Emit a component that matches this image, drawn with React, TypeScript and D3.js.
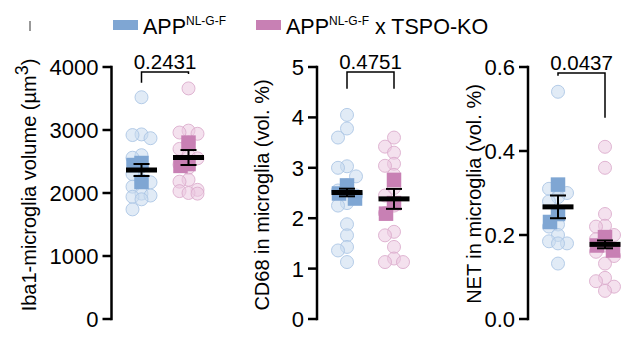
import React from 'react';
import * as d3 from 'd3';

// ---------- DATA ----------
const groupNames = ['APP NL-G-F', 'APP NL-G-F x TSPO-KO'];

const iba1Blue = [3520, 2930, 2920, 2870, 2600, 2560, 2420, 2300, 2200, 2170, 2100, 1990, 1960, 1940, 1900, 1740];
const iba1Pink = [3660, 2990, 2960, 2940, 2800, 2700, 2600, 2550, 2450, 2400, 2210, 2180, 2050, 2030, 2000, 1990];
const iba1BlueAnimals = [2444, 2476, 2175];
const iba1PinkAnimals = [2800, 2430, 2460];

const cd68Blue = [4.05, 3.78, 3.6, 3.03, 3.0, 2.83, 2.65, 2.55, 2.45, 2.3, 2.25, 1.88, 1.66, 1.43, 1.36, 1.13];
const cd68Pink = [3.6, 3.42, 3.3, 3.08, 3.04, 2.86, 2.6, 2.45, 2.25, 2.1, 1.73, 1.66, 1.43, 1.2, 1.13, 1.13];
const cd68BlueAnimals = [2.65, 2.39, 2.49];
const cd68PinkAnimals = [2.76, 2.09, 2.3];

const netBlue = [0.541, 0.31, 0.31, 0.3, 0.29, 0.28, 0.25, 0.225, 0.22, 0.2, 0.185, 0.18, 0.18, 0.132];
const netPink = [0.41, 0.36, 0.25, 0.222, 0.22, 0.2, 0.19, 0.175, 0.16, 0.15, 0.132, 0.098, 0.09, 0.077, 0.067];
const netBlueAnimals = [0.32, 0.231, 0.25];
const netPinkAnimals = [0.195, 0.163, 0.175];

const iba1Ticks = [0, 1000, 2000, 3000, 4000];
const cd68Ticks = [0, 1, 2, 3, 4, 5];
const netTicks = [0, 0.2, 0.4, 0.6];

const pValues = ['0.2431', '0.4751', '0.0437'];
const bracketTop = [3920, 4.9, 0.586];
const bracketLegs = [[3750, 3890], [4.57, 4.57], [0.579, 0.479]];

// ---------- STYLE ----------
const FONT = '"Liberation Sans", Arial, Helvetica, sans-serif';
const BLUE_SQ = '#7fa6d3';
const BLUE_FILL = '#c9dbef';
const BLUE_STROKE = '#a9c4e4';
const PINK_SQ = '#c880b4';
const PINK_FILL = '#ebc9e0';
const PINK_STROKE = '#dbaacb';

type Panel = {
  axisX: number;
  max: number;
  ticks: number[];
  fmt: (v: number) => string;
  circles: number[][];
  animals: number[][];
  label: React.ReactNode;
  labelX: number;
  labelY: number;
};

function dodge(ys: number[], r: number, step: number): number[] {
  const placed: { x: number; y: number }[] = [];
  const order = ys.map((_, i) => i).sort((a, b) => ys[a] - ys[b]);
  const out = new Array(ys.length).fill(0);
  for (const i of order) {
    const y = ys[i];
    const cands = [0, -step, step];
    let best = 0;
    let bestD = -1;
    for (const c of cands) {
      let minD = Infinity;
      for (const p of placed) {
        const d = Math.hypot(p.x - c, p.y - y);
        if (d < minD) minD = d;
      }
      if (minD >= r * 1.6) { best = c; break; }
      if (minD > bestD) { bestD = minD; best = c; }
    }
    placed.push({ x: best, y });
    out[i] = best;
  }
  return out;
}

const Y0 = 319;
const Y1 = 67;

function PanelView({ p, idx }: { p: Panel; idx: number }) {
  const y = d3.scaleLinear().domain([0, p.max]).range([Y0, Y1]);
  const x = d3.scalePoint<number>().domain([0, 1]).range([p.axisX + 30, p.axisX + 77]);
  const r = 6.5;
  const sq = 14.5;
  const fills = [BLUE_FILL, PINK_FILL];
  const strokes = [BLUE_STROKE, PINK_STROKE];
  const sqs = [BLUE_SQ, PINK_SQ];
  const xl = x(0)!;
  const xr = x(1)!;
  const top = y(bracketTop[idx]);
  return (
    <g>
      {/* axis */}
      <line x1={p.axisX} x2={p.axisX} y1={y(0) + 1.25} y2={y(p.max) - 1.25} stroke="#000" strokeWidth={2.5} />
      {p.ticks.map((t) => (
        <g key={t}>
          <line x1={p.axisX - 9} x2={p.axisX} y1={y(t)} y2={y(t)} stroke="#000" strokeWidth={2.5} />
          <text x={p.axisX - 13} y={y(t)} dy="0.36em" textAnchor="end" fontSize={22} fontFamily={FONT} fill="#000">
            {p.fmt(t)}
          </text>
        </g>
      ))}
      {/* y label */}
      <text
        transform={`translate(${p.labelX},${p.labelY}) rotate(-90)`}
        textAnchor="middle"
        dy="0.35em"
        fontSize={20}
        fontFamily={FONT}
        fill="#000"
      >
        {p.label}
      </text>
      {/* points */}
      {p.circles.map((vals, g) => {
        const ys = vals.map((v) => y(v));
        const off = dodge(ys, r, 9);
        return (
          <g key={'c' + g}>
            {vals.map((v, i) => (
              <circle
                key={i}
                cx={x(g)! + off[i]}
                cy={ys[i]}
                r={r}
                fill={fills[g]}
                fillOpacity={0.55}
                stroke={strokes[g]}
                strokeOpacity={0.85}
                strokeWidth={1}
              />
            ))}
          </g>
        );
      })}
      {p.animals.map((vals, g) => {
        const ys = vals.map((v) => y(v));
        const off = dodge(ys, sq / 2, 8);
        return (
          <g key={'s' + g}>
            {vals.map((v, i) => (
              <rect key={i} x={x(g)! + off[i] - sq / 2} y={ys[i] - sq / 2} width={sq} height={sq} fill={sqs[g]} />
            ))}
          </g>
        );
      })}
      {/* mean +- SEM of animal means */}
      {p.animals.map((vals, g) => {
        const m = d3.mean(vals)!;
        const sem = d3.deviation(vals)! / Math.sqrt(vals.length);
        const cx = x(g)!;
        return (
          <g key={'m' + g} stroke="#000">
            <line x1={cx} x2={cx} y1={y(m + sem)} y2={y(m - sem)} strokeWidth={2} />
            <line x1={cx - 8} x2={cx + 8} y1={y(m + sem)} y2={y(m + sem)} strokeWidth={2} />
            <line x1={cx - 8} x2={cx + 8} y1={y(m - sem)} y2={y(m - sem)} strokeWidth={2} />
            <line x1={cx - 15.5} x2={cx + 15.5} y1={y(m)} y2={y(m)} strokeWidth={5} />
          </g>
        );
      })}
      {/* bracket */}
      <path
        d={`M${xl},${y(bracketLegs[idx][0])}V${top}H${xr}V${y(bracketLegs[idx][1])}`}
        fill="none"
        stroke="#000"
        strokeWidth={1.5}
      />
      <text x={(xl + xr) / 2} y={top - 3} textAnchor="middle" fontSize={20.5} fontFamily={FONT} fill="#000">
        {pValues[idx]}
      </text>
    </g>
  );
}

export default function App() {
  const panels: Panel[] = [
    {
      axisX: 111.5,
      max: 4000,
      ticks: iba1Ticks,
      fmt: (v) => String(v),
      circles: [iba1Blue, iba1Pink],
      animals: [iba1BlueAnimals, iba1PinkAnimals],
      label: (
        <>
          Iba1-microglia volume (µm
          <tspan fontSize={18} dy={-8}>3</tspan>
          <tspan dy={8}>)</tspan>
        </>
      ),
      labelX: 29,
      labelY: 185,
    },
    {
      axisX: 317,
      max: 5,
      ticks: cd68Ticks,
      fmt: (v) => String(v),
      circles: [cd68Blue, cd68Pink],
      animals: [cd68BlueAnimals, cd68PinkAnimals],
      label: 'CD68 in microglia (vol. %)',
      labelX: 262,
      labelY: 195,
    },
    {
      axisX: 528,
      max: 0.6,
      ticks: netTicks,
      fmt: d3.format('.1f'),
      circles: [netBlue, netPink],
      animals: [netBlueAnimals, netPinkAnimals],
      label: 'NET in microglia (vol. %)',
      labelX: 474,
      labelY: 194,
    },
  ];

  const legendX = [113, 256];
  const legendColors = [BLUE_SQ, PINK_SQ];

  return (
    <svg
      width={631}
      height={345}
      viewBox="0 0 631 345"
      style={{ position: 'absolute', left: 0, top: 0, background: '#fff' }}
    >
      <rect width={631} height={345} fill="#fff" />
      <line x1={30} x2={30} y1={21} y2={31} stroke="#555" strokeWidth={1.2} />
      {/* legend */}
      {groupNames.map((g, i) => (
        <g key={g}>
          <rect x={legendX[i]} y={20} width={25} height={10} fill={legendColors[i]} />
          <text x={legendX[i] + 30} y={33.5} fontSize={21.5} fontFamily={FONT} fill="#000">
            APP
            <tspan fontSize={12} dy={-8.5}>NL-G-F</tspan>
            {i === 1 ? <tspan dy={8.5}> x TSPO-KO</tspan> : null}
          </text>
        </g>
      ))}
      {panels.map((p, i) => (
        <PanelView key={i} p={p} idx={i} />
      ))}
    </svg>
  );
}
